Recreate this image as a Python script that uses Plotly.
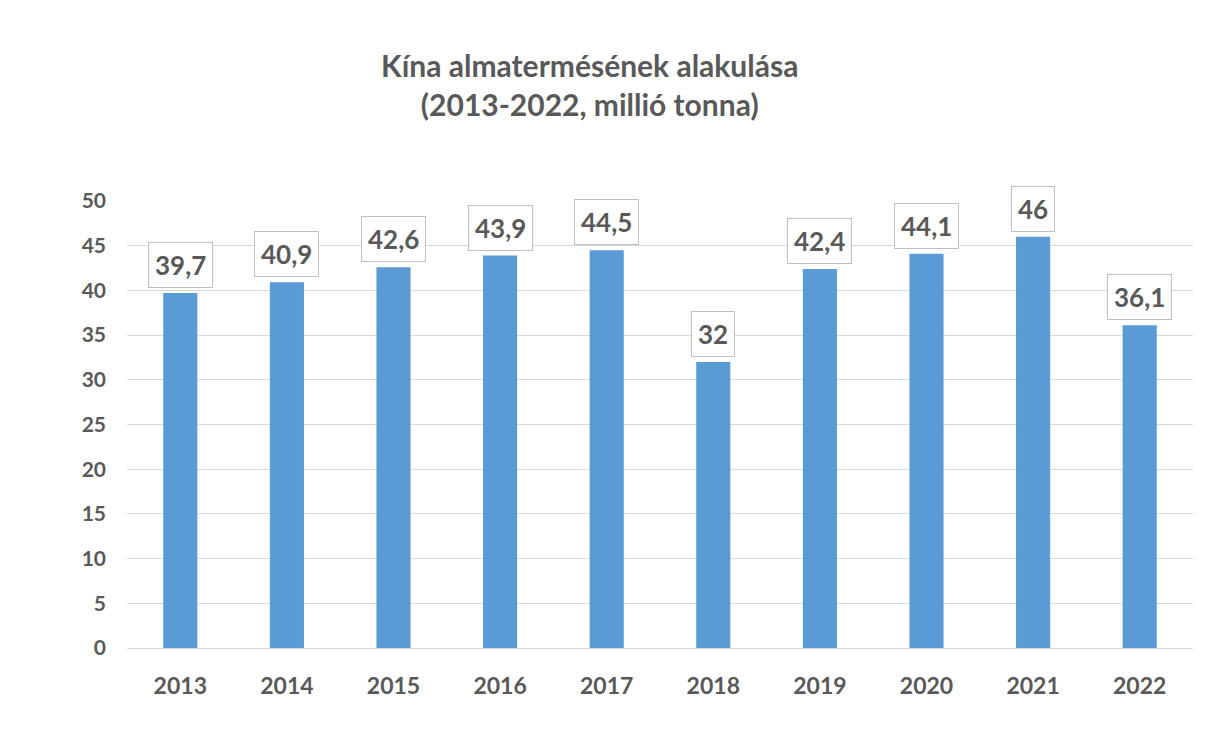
import plotly.graph_objects as go

# Apple production in China, million tonnes
years = [2013, 2014, 2015, 2016, 2017, 2018, 2019, 2020, 2021, 2022]
production = [39.7, 40.9, 42.6, 43.9, 44.5, 32, 42.4, 44.1, 46, 36.1]
value_labels = ["39,7", "40,9", "42,6", "43,9", "44,5", "32", "42,4", "44,1", "46", "36,1"]
y_ticks = [0, 5, 10, 15, 20, 25, 30, 35, 40, 45, 50]

TEXT = "#595959"
FONT = "Lato"

fig = go.Figure(
    go.Bar(
        x=years,
        y=production,
        width=[0.32] * len(years),
        marker=dict(color="#5b9bd5", line=dict(width=0)),
        hoverinfo="skip",
    )
)

# Boxed value labels above each bar
for yr, val, lab in zip(years, production, value_labels):
    fig.add_annotation(
        x=yr, y=val, xref="x", yref="y", text=f"<b>{lab}</b>", showarrow=False,
        xanchor="center", yanchor="bottom", yshift=5,
        font=dict(family=FONT, size=26, color=TEXT),
        bgcolor="white", bordercolor="#bfbfbf", borderwidth=1, borderpad=6,
    )

fig.update_layout(
    width=1211, height=746,
    margin=dict(l=127, r=18, t=201, b=98),
    paper_bgcolor="white", plot_bgcolor="white",
    showlegend=False,
    title=dict(
        text="<b>Kína almatermésének alakulása<br>(2013-2022, millió tonna)</b>",
        x=0.487, xanchor="center", y=0.897, yanchor="top",
        font=dict(family=FONT, size=30, color=TEXT),
    ),
    xaxis=dict(
        type="linear", range=[years[0] - 0.5, years[-1] + 0.5],
        tickvals=years, ticktext=[f"<b>{y}</b>" for y in years],
        showgrid=False, showline=False, zeroline=False, ticks="",
        ticklabelstandoff=22,
        tickfont=dict(family=FONT, size=23, color=TEXT),
    ),
    yaxis=dict(
        range=[0, 50], tickvals=y_ticks, ticktext=[f"<b>{v}</b>" for v in y_ticks],
        showgrid=True, gridcolor="#d9d9d9", gridwidth=1,
        zeroline=True, zerolinecolor="#d9d9d9", zerolinewidth=1,
        showline=False, ticks="", ticklabelstandoff=20,
        tickfont=dict(family=FONT, size=21, color=TEXT),
    ),
)

fig.write_html("out.html")
